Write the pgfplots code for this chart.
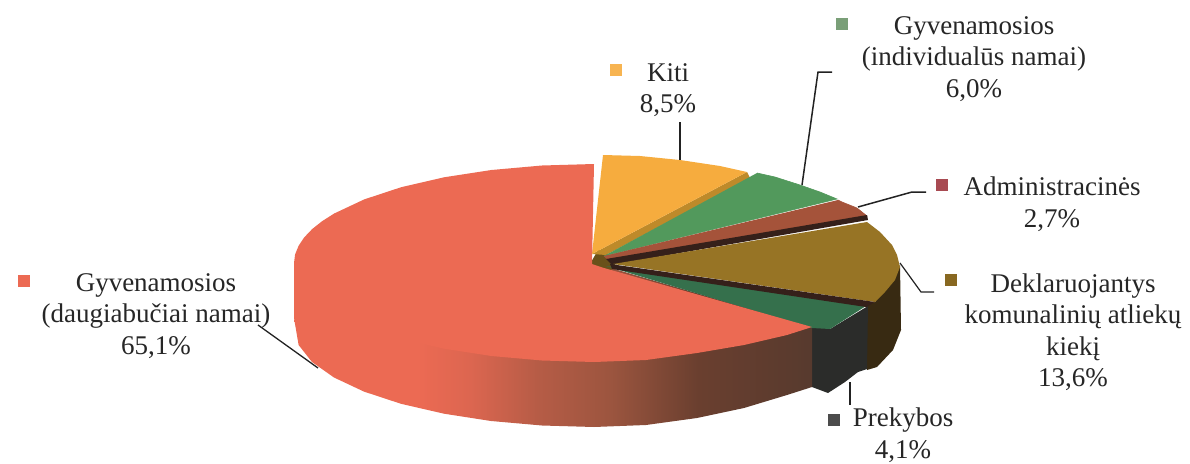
\documentclass[border=0pt]{standalone}
\usepackage{fontspec}
\setmainfont{Liberation Serif}
\usepackage{pgfplots}
\pgfplotsset{compat=1.18}

\definecolor{cRed}{HTML}{EC6A53}
\definecolor{cOrange}{HTML}{F6AC3E}
\definecolor{cOrangeD}{HTML}{BE8A2A}
\definecolor{cGreen}{HTML}{52995C}
\definecolor{cBrick}{HTML}{A5533A}
\definecolor{cOlive}{HTML}{977425}
\definecolor{cDkGreen}{HTML}{35704C}
\definecolor{cEdge}{HTML}{35201A}
\definecolor{cBlack}{HTML}{2B2C2A}
\definecolor{cOliveSide}{HTML}{382A12}
\definecolor{cLine}{HTML}{222222}
\definecolor{cText}{HTML}{262626}
\definecolor{kGreen}{HTML}{7A9F78}
\definecolor{kBrick}{HTML}{A84A52}
\definecolor{sA}{HTML}{DC6650}
\definecolor{sB}{HTML}{B65C46}
\definecolor{sC}{HTML}{9C553F}
\definecolor{sD}{HTML}{6A3F2F}
\definecolor{sE}{HTML}{573A2E}

% side of the big slice: light on the left, dark towards the cut
\pgfdeclarehorizontalshading{redside}{100bp}{
  color(0bp)=(cRed);
  color(37bp)=(cRed);
  color(42bp)=(sA);
  color(48.5bp)=(sB);
  color(55.5bp)=(sC);
  color(64bp)=(sD);
  color(75bp)=(sE);
  color(100bp)=(sE)}

\begin{document}
\begin{tikzpicture}
\begin{axis}[
  name=ax,
  scale only axis,
  width=1190pt,
  height=463pt,
  xmin=0, xmax=1190,
  ymin=0, ymax=463,
  y dir=reverse,
  hide axis,
  clip=false,
  every axis plot/.append style={mark=none},
  nodes={font=\fontsize{27}{31.5}\selectfont, text=cText, align=center, inner sep=0pt}
]

% side walls
\addplot[fill=cOliveSide, draw=none] coordinates {
  (866,305) (875,302) (900,265) (901,330) (893,350) (877,367) (867,370)};
\addplot[fill=cBlack, draw=none] coordinates {
  (812,325) (830,329) (868,306) (867,369) (858,372) (845,382) (828,393) (812,387)};
\addplot[shading=redside, draw=none] coordinates {
  (294,263) (294,318) (298.6,345) (312,362) (334,377.5) (364,391.6) (401,403.8)
  (444,413.7) (491,421) (542,425.5) (594,427) (646,425) (697,418) (744,408)
  (787,395) (812,387) (812,327) (594,263)};

% hub
\addplot[fill=cOlive!70!black, draw=none] coordinates {
  (590,264) (598,250) (612,256) (616,268) (604,272)};

% top faces
\addplot[fill=cOrangeD, draw=none] coordinates {
  (592,254) (747,172) (750,178) (606,255)};
\addplot[fill=cOrange, draw=none] coordinates {
  (603,155) (640,156) (680,160) (720,166) (747,172) (592,254)};
\addplot[fill=cGreen, draw=cGreen, line width=0.6pt] coordinates {
  (757,173) (775,177) (800,185) (820,192) (837,199) (604,256)};
\addplot[fill=cBrick, draw=cBrick, line width=0.6pt] coordinates {
  (838,200) (842,202) (857,208) (867,216) (608,260) (604,256)};
\addplot[fill=cEdge, draw=none] coordinates {
  (606,259) (867,215) (868,220) (612,265)};
\addplot[fill=cDkGreen, draw=none] coordinates {
  (606,266) (866,306) (830,329) (812,328)};
\addplot[fill=cOlive, draw=none] coordinates {
  (867,222) (880,232) (892,245) (897,255) (900,267) (895,280) (885,292) (875,302) (613,264)};
\addplot[fill=cEdge, draw=none] coordinates {
  (610,264) (875,302) (866,307) (612,269)};
\addplot[fill=cRed, draw=none] coordinates {
  (594,164) (542,165.5) (491.4,170) (444,177.3) (401.2,187.2) (364.2,199.4)
  (334.2,213.5) (322.1,221.2) (312.1,229.1) (304.2,237.4) (298.6,245.8) (295.1,254.4)
  (294,263) (295.1,271.6) (298.6,280.2) (304.2,288.6) (312.1,296.9) (322.1,304.8)
  (334.2,312.5) (364.2,326.6) (401.2,338.8) (444,348.7) (491.4,356) (542,360.5)
  (594,362) (646,360) (697,353) (744,345) (787,335) (812,327) (604,268) (592,264)};

% leader lines
\addplot[cLine, line width=1.5pt] coordinates {(680,122) (680,160)};
\addplot[cLine, line width=1.5pt] coordinates {(802,185) (818,72) (832,72)};
\addplot[cLine, line width=1.5pt] coordinates {(858,207) (912,192) (926,192)};
\addplot[cLine, line width=1.2pt] coordinates {(900,263) (921,292) (934,292)};
\addplot[cLine, line width=1.5pt] coordinates {(850,382) (850,405)};
\addplot[cLine, line width=1.3pt] coordinates {(258,325) (318,368)};

% legend keys
\addplot[only marks, mark=square*, mark size=5.5pt, color=cOrange!90!white] coordinates {(616,70)};
\addplot[only marks, mark=square*, mark size=5.5pt, color=kGreen] coordinates {(842,24)};
\addplot[only marks, mark=square*, mark size=5.5pt, color=kBrick] coordinates {(942,185)};
\addplot[only marks, mark=square*, mark size=5.5pt, color=cOlive!90!black] coordinates {(951,280)};
\addplot[only marks, mark=square*, mark size=5.5pt, color=black!70] coordinates {(834,420)};
\addplot[only marks, mark=square*, mark size=5.5pt, color=cRed] coordinates {(24,281)};

% labels
\node at (axis cs:668,90) {Kiti\\8,5\%};
\node at (axis cs:974,59) {Gyvenamosios\\(individualūs namai)\\6,0\%};
\node at (axis cs:1052,204) {Administracinės\\2,7\%};
\node at (axis cs:1073,332) {Deklaruojantys\\komunalinių atliekų\\kiekį\\13,6\%};
\node at (axis cs:903,435) {Prekybos\\4,1\%};
\node at (axis cs:156,316) {Gyvenamosios\\(daugiabučiai namai)\\65,1\%};

\end{axis}
\pgfresetboundingbox
\path[use as bounding box] (ax.south west) rectangle (ax.north east);
\end{tikzpicture}
\end{document}
